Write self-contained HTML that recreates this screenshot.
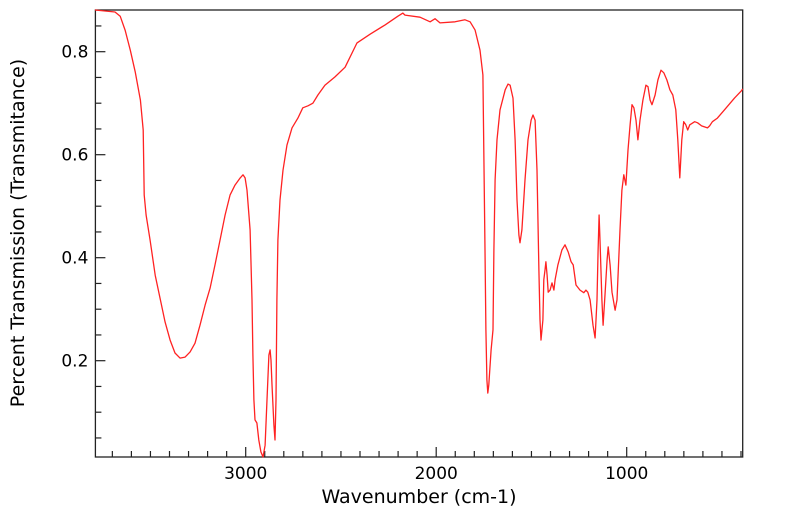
<!DOCTYPE html>
<html><head><meta charset="utf-8"><style>
body{margin:0;background:#fff;}
svg{display:block;font-family:"DejaVu Sans","Liberation Sans",sans-serif;}
</style></head><body>
<svg id="chart" width="799" height="516">
<g id="axes"></g>
<path id="line" fill="none" stroke="#ff2222" stroke-width="1.3" stroke-linejoin="round"/>
<text x="419" y="503" text-anchor="middle" font-size="19">Wavenumber (cm-1)</text>
<text transform="translate(24,233) rotate(-90)" text-anchor="middle" font-size="19">Percent Transmission (Transmitance)</text>
</svg>
<script>
const wavenumbers=[3791,3686,3659,3633,3606,3580,3553,3538,3533,3523,3502,3475,3448,3423,3397,3371,3345,3318,3292,3266,3240,3213,3187,3161,3135,3108,3082,3056,3029,3014,3003,2993,2977,2967,2962,2957,2951,2941,2931,2920,2909,2898,2888,2878,2872,2867,2862,2852,2846,2841,2836,2831,2820,2804,2783,2757,2726,2700,2673,2647,2621,2584,2531,2478,2416,2347,2268,2201,2175,2164,2085,2032,2006,1980,1901,1849,1822,1796,1770,1755,1750,1744,1739,1734,1729,1724,1712,1702,1697,1691,1681,1665,1638,1623,1612,1597,1586,1576,1566,1560,1550,1534,1518,1502,1492,1481,1471,1461,1455,1450,1440,1435,1429,1424,1418,1412,1402,1392,1382,1376,1361,1340,1324,1307,1292,1281,1266,1245,1225,1214,1204,1192,1177,1166,1156,1150,1145,1140,1130,1124,1114,1103,1097,1087,1077,1061,1051,1035,1025,1015,1004,993,982,972,962,951,941,930,915,899,888,877,867,851,836,820,805,789,773,758,742,732,721,711,701,690,680,669,643,628,607,576,565,550,524,487,434,398,391];
const transmittance=[0.881,0.877,0.869,0.842,0.803,0.761,0.706,0.648,0.522,0.483,0.434,0.366,0.318,0.275,0.240,0.215,0.205,0.207,0.217,0.234,0.269,0.308,0.341,0.386,0.434,0.483,0.522,0.541,0.555,0.561,0.555,0.531,0.454,0.318,0.211,0.124,0.085,0.079,0.046,0.023,0.013,0.036,0.124,0.211,0.221,0.201,0.153,0.075,0.046,0.124,0.318,0.434,0.512,0.570,0.619,0.652,0.671,0.691,0.695,0.700,0.716,0.735,0.751,0.770,0.817,0.834,0.852,0.869,0.875,0.871,0.867,0.858,0.864,0.856,0.858,0.862,0.858,0.842,0.803,0.755,0.609,0.415,0.260,0.163,0.137,0.153,0.221,0.260,0.415,0.551,0.629,0.687,0.726,0.737,0.735,0.710,0.629,0.512,0.444,0.429,0.454,0.551,0.629,0.667,0.677,0.667,0.570,0.376,0.279,0.240,0.279,0.357,0.376,0.392,0.366,0.333,0.337,0.351,0.337,0.357,0.386,0.415,0.425,0.411,0.392,0.386,0.347,0.337,0.332,0.337,0.333,0.318,0.269,0.244,0.318,0.415,0.483,0.434,0.318,0.269,0.328,0.396,0.421,0.386,0.333,0.298,0.318,0.454,0.531,0.561,0.541,0.609,0.658,0.697,0.691,0.667,0.629,0.667,0.706,0.735,0.732,0.706,0.697,0.716,0.745,0.764,0.759,0.745,0.726,0.716,0.687,0.629,0.555,0.629,0.664,0.658,0.648,0.658,0.664,0.662,0.656,0.652,0.656,0.664,0.671,0.687,0.710,0.724,0.728];
const xTicks=[3000,2000,1000];
const yTicks=[0.2,0.4,0.6,0.8];
const L=95.4,R=742.7,T=10,B=457;
const xs=w=>245.7+(3000-w)*0.1905;
const ys=v=>51.7+(0.8-v)*515;
const NS='http://www.w3.org/2000/svg';
const ax=document.getElementById('axes');
function mk(tag,attrs,parent){const e=document.createElementNS(NS,tag);for(const k in attrs)e.setAttribute(k,attrs[k]);parent.appendChild(e);return e;}
const frame=mk('rect',{x:L,y:T,width:R-L,height:B-T,fill:'none',stroke:'#222','stroke-width':1.3},ax);


for(let w=3700;w>=400;w-=100){
  const x=xs(w);if(x<L||x>R)continue;
  const major=w%1000===0;
  const t=mk('line',{x1:x,x2:x,y1:B,y2:B-(major?10:6),stroke:'#222','stroke-width':1.2},ax);
  
  
}
xTicks.forEach(w=>{
  const t=mk('text',{x:xs(w),y:B+22,'text-anchor':'middle','font-size':17},ax);
  t.textContent=w;
  
  
});
for(let i=1;i<=17;i++){
  const v=i*0.05;const y=ys(v);if(y<T||y>B)continue;
  const major=i%4===0;
  const t=mk('line',{x1:L,x2:L+(major?10:6),y1:y,y2:y,stroke:'#222','stroke-width':1.2},ax);
  
  
}
yTicks.forEach(v=>{
  const t=mk('text',{x:L-7,y:ys(v)+6,'text-anchor':'end','font-size':17},ax);
  t.textContent=v.toFixed(1);
  
  
});
let d='';
wavenumbers.forEach((w,i)=>{d+=(i?'L':'M')+xs(w).toFixed(1)+','+ys(transmittance[i]).toFixed(1);});
document.getElementById('line').setAttribute('d',d);
</script>
</body></html>
